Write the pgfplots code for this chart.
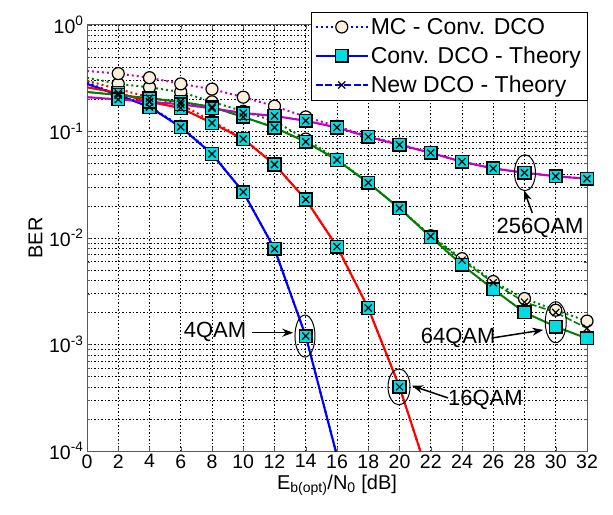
\documentclass[border=0pt]{standalone}
\usepackage{fontspec}
\setmainfont{Liberation Sans}
\usepackage{pgfplots}
\pgfplotsset{compat=1.18}
\usetikzlibrary{arrows.meta}

\definecolor{cblue}{RGB}{0,0,255}
\definecolor{cred}{RGB}{255,0,0}
\definecolor{cgreen}{RGB}{0,128,0}
\definecolor{cmag}{RGB}{195,0,200}
\definecolor{csq}{RGB}{0,220,225}
\definecolor{ccirc}{RGB}{250,240,220}

% x = Eb/N0 in dB, markers from x=2 on
\pgfplotsset{
  mc/.style={line width=2pt, dash pattern=on 2pt off 3pt, mark=*, mark repeat=1, mark phase=2,
    mark options={solid, fill=ccirc, draw=black, line width=1.2pt, mark size=6pt}},
  th/.style={line width=2pt, mark=square*, mark repeat=1, mark phase=2,
    mark options={solid, fill=csq, draw=black, line width=1.5pt, mark size=6.3pt}},
  nw/.style={line width=1.6pt, dash pattern=on 7pt off 2.5pt, mark=x, mark repeat=1, mark phase=2,
    mark options={solid, draw=black, line width=1.2pt, mark size=5pt}},
}

\begin{document}
\begin{tikzpicture}
\begin{axis}[
  scale only axis, width=500pt, height=426pt,
  ymode=log, xmin=0, xmax=32, ymin=1e-4, ymax=1,
  xtick={0,2,...,32},
  ytick={1e-4,1e-3,1e-2,1e-1,1},
  yticklabels={10\textsuperscript{-4},10\textsuperscript{-3},10\textsuperscript{-2},10\textsuperscript{-1},10\textsuperscript{0}},
  grid=both,
  major grid style={black, line width=0.6pt, dash pattern=on 1.5pt off 2pt},
  minor grid style={black, line width=0.6pt, dash pattern=on 1.5pt off 2pt},
  axis line style={black!65, line width=1pt},
  tick style={black!65}, tick align=inside,
  /pgf/number format/assume math mode=true,
  ticklabel style={font=\fontsize{19.5}{19.5}\selectfont},
  xlabel={E\textsubscript{b(opt)}/N\textsubscript{0} [dB]},
  ylabel={BER},
  label style={font=\fontsize{20}{20}\selectfont},
  legend style={at={(axis description cs:1,1.0305)}, anchor=north east, draw=black,
    font=\fontsize{23}{25}\selectfont, inner xsep=4pt, inner ysep=4pt, row sep=7pt, cells={anchor=west}},
  legend image code/.code={\draw[#1, mark repeat=2, mark phase=2] plot coordinates {(0pt,0pt) (26pt,0pt) (52pt,0pt)};},
]
% ---- Monte Carlo, conventional DCO ----
\addplot[cblue, mc] coordinates {(0,0.29) (2,0.22) (4,0.172) (6,0.112) (8,0.062) (10,0.027) (12,0.0079) (14,0.0012) (16,9e-5)};
\addplot[cred, mc, forget plot] coordinates {(0,0.30) (2,0.25) (4,0.21) (6,0.18) (8,0.125) (10,0.086) (12,0.049) (14,0.023) (16,0.0083) (18,0.0022) (20,0.0004) (22,5e-5)};
\addplot[cgreen, mc, forget plot] coordinates {(0,0.32) (2,0.28) (4,0.26) (6,0.235) (8,0.19) (10,0.155) (12,0.125) (14,0.085) (16,0.055) (18,0.033) (20,0.019) (22,0.0105) (24,0.0064) (26,0.0039) (28,0.0027) (30,0.0021) (32,0.00166)};
\addplot[cmag, mc, forget plot] coordinates {(0,0.37) (2,0.35) (4,0.32) (6,0.28) (8,0.25) (10,0.21) (12,0.173) (14,0.137) (16,0.112) (18,0.09) (20,0.076) (22,0.063) (24,0.052) (26,0.045) (28,0.041) (30,0.038) (32,0.036)};
% ---- Theory, conventional DCO ----
\addplot[cblue, th] coordinates {(0,0.28) (2,0.22) (4,0.17) (6,0.11) (8,0.0615) (10,0.027) (12,0.0079) (14,0.0012) (16,9e-5)};
\addplot[cred, th, forget plot] coordinates {(0,0.26) (2,0.23) (4,0.19) (6,0.166) (8,0.12) (10,0.085) (12,0.049) (14,0.023) (16,0.0083) (18,0.0022) (20,0.0004) (22,5e-5)};
\addplot[cgreen, th, forget plot] coordinates {(0,0.235) (2,0.22) (4,0.205) (6,0.19) (8,0.17) (10,0.137) (12,0.109) (14,0.080) (16,0.054) (18,0.033) (20,0.019) (22,0.0102) (24,0.0056) (26,0.0033) (28,0.0020) (30,0.00147) (32,0.00114)};
\addplot[cmag, th, forget plot] coordinates {(0,0.21) (2,0.2) (4,0.19) (6,0.18) (8,0.165) (10,0.149) (12,0.14) (14,0.126) (16,0.109) (18,0.089) (20,0.075) (22,0.063) (24,0.052) (26,0.045) (28,0.041) (30,0.038) (32,0.036)};
% ---- Theory, new DCO ----
\addplot[cblue, nw] coordinates {(0,0.28) (2,0.22) (4,0.17) (6,0.11) (8,0.0615) (10,0.027) (12,0.0079) (14,0.0012) (16,9e-5)};
\addplot[cred, nw, forget plot] coordinates {(0,0.26) (2,0.23) (4,0.19) (6,0.166) (8,0.12) (10,0.085) (12,0.049) (14,0.023) (16,0.0083) (18,0.0022) (20,0.0004) (22,5e-5)};
\addplot[cgreen, nw, forget plot] coordinates {(0,0.235) (2,0.22) (4,0.205) (6,0.19) (8,0.17) (10,0.137) (12,0.109) (14,0.080) (16,0.054) (18,0.033) (20,0.019) (22,0.0104) (24,0.0062) (26,0.0038) (28,0.0025) (30,0.0020) (32,0.00142)};
\addplot[cmag, nw, forget plot] coordinates {(0,0.21) (2,0.2) (4,0.19) (6,0.18) (8,0.165) (10,0.149) (12,0.14) (14,0.126) (16,0.109) (18,0.089) (20,0.075) (22,0.063) (24,0.052) (26,0.045) (28,0.041) (30,0.038) (32,0.036)};
\legend{MC - Conv. DCO, Conv. DCO - Theory, New DCO - Theory}

% ---- annotations ----
\draw[black, line width=1pt] (axis cs:13.95,1.2e-3) ellipse [x radius=10pt, y radius=21pt];
\node[font=\fontsize{22}{22}\selectfont] at (axis cs:8.19,1.31e-3) {4QAM};
\draw[-{Stealth[length=11pt,width=8pt]}, line width=1.5pt] (axis cs:10.56,1.29e-3) -- (axis cs:13.2,1.29e-3);

\draw[black, line width=1pt] (axis cs:19.97,4e-4) ellipse [x radius=11pt, y radius=18pt];
\node[font=\fontsize{22}{22}\selectfont] at (axis cs:25.5,3.0e-4) {16QAM};
\draw[-{Stealth[length=11pt,width=8pt]}, line width=1.5pt] (axis cs:23.1,3.15e-4) -- (axis cs:20.8,4.1e-4);

\draw[black, line width=1pt] (axis cs:30.0,1.62e-3) ellipse [x radius=10.5pt, y radius=20.5pt];
\node[font=\fontsize{22}{22}\selectfont] at (axis cs:23.75,1.15e-3) {64QAM};
\draw[-{Stealth[length=11pt,width=8pt]}, line width=1.5pt] (axis cs:25.9,1.15e-3) -- (axis cs:29.2,1.37e-3);

\draw[black, line width=1pt] (axis cs:28.03,0.041) ellipse [x radius=10.5pt, y radius=18pt];
\node[font=\fontsize{22}{22}\selectfont] at (axis cs:29.0,0.0124) {256QAM};
\draw[-{Stealth[length=11pt,width=8pt]}, line width=1.5pt] (axis cs:28.5,0.0172) -- (axis cs:27.97,0.028);

\coordinate (LL) at (rel axis cs:0,0);
\coordinate (UR) at (rel axis cs:1,1);
\end{axis}
\pgfresetboundingbox
\path[use as bounding box] ([xshift=-87pt,yshift=-64pt]LL) rectangle ([xshift=26pt,yshift=25pt]UR);
\end{tikzpicture}
\end{document}
